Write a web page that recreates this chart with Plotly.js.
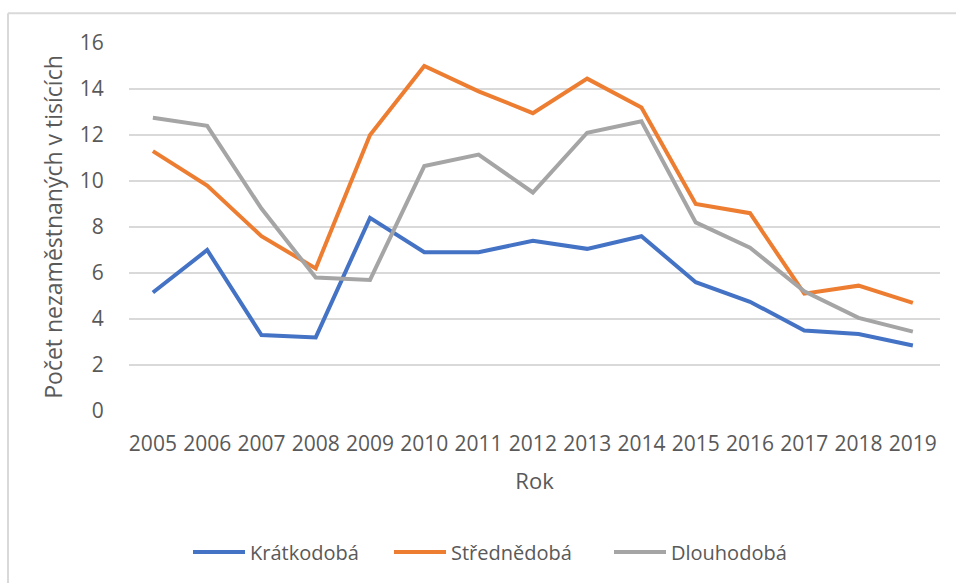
<!DOCTYPE html>
<html>
<head>
<meta charset="utf-8">
<script src="https://cdn.plot.ly/plotly-3.0.1.min.js"></script>
<style>
  html, body { margin: 0; padding: 0; background: #ffffff; }
  #chart { width: 956px; height: 583px; }
</style>
</head>
<body>
<div id="chart"></div>
<script>
const years = ['2005','2006','2007','2008','2009','2010','2011','2012','2013','2014','2015','2016','2017','2018','2019'];
const kratkodoba  = [5.15, 7.0, 3.3, 3.2, 8.4, 6.9, 6.9, 7.4, 7.05, 7.6, 5.6, 4.75, 3.5, 3.35, 2.85];
const strednedoba = [11.3, 9.8, 7.6, 6.2, 12.0, 15.0, 13.9, 12.95, 14.45, 13.2, 9.0, 8.6, 5.1, 5.45, 4.7];
const dlouhodoba  = [12.75, 12.4, 8.8, 5.8, 5.7, 10.65, 11.15, 9.5, 12.1, 12.6, 8.2, 7.1, 5.2, 4.05, 3.45];
const seriesNames = ['Krátkodobá', 'Střednědobá', 'Dlouhodobá'];
const seriesColors = ['#4472C4', '#ED7D31', '#A5A5A5'];
const yTicks = [0, 2, 4, 6, 8, 10, 12, 14, 16];

const FONT = '"Open Sans", Lato, sans-serif';
const TXT = '#595959';
const legendIds = ['legend', 'legend2', 'legend3'];

const data = [kratkodoba, strednedoba, dlouhodoba].map((vals, i) => ({
  type: 'scatter',
  mode: 'lines',
  x: years,
  y: vals,
  name: seriesNames[i],
  legend: legendIds[i],
  line: { color: seriesColors[i], width: 4 },
  hoverinfo: 'x+y+name'
}));

// plot area in pixels: left 129, right 940, top ~42.7, bottom 411
const L = 129, R = 940, T = 42.7, B = 411;
const W = R - L, H = B - T;
const px = x => (x - L) / W;
const py = y => (B - y) / H;

const legendBase = {
  orientation: 'h',
  xanchor: 'left',
  y: py(552), yanchor: 'middle',
  font: { family: FONT, size: 20, color: TXT },
  itemwidth: 52,
  bgcolor: 'rgba(0,0,0,0)'
};
const legendX = [188, 389, 609];

const layout = {
  width: 956,
  height: 583,
  margin: { l: L, r: 956 - R, t: T, b: 583 - B },
  paper_bgcolor: '#ffffff',
  plot_bgcolor: '#ffffff',
  font: { family: FONT, color: TXT, size: 20 },
  showlegend: true,
  legend:  Object.assign({}, legendBase, { x: px(legendX[0]) }),
  legend2: Object.assign({}, legendBase, { x: px(legendX[1]) }),
  legend3: Object.assign({}, legendBase, { x: px(legendX[2]) }),
  xaxis: {
    type: 'category',
    range: [-0.44, 14.5],
    showgrid: false,
    zeroline: false,
    showline: false,
    ticks: 'outside',
    ticklen: 14,
    tickcolor: 'rgba(0,0,0,0)',
    tickfont: { family: FONT, size: 21, color: TXT },
    title: { text: 'Rok', font: { family: FONT, size: 22, color: TXT }, standoff: 17 },
    fixedrange: true
  },
  yaxis: {
    range: [0, 16],
    tickvals: yTicks,
    showgrid: true,
    gridcolor: '#D9D9D9',
    gridwidth: 1.5,
    zeroline: false,
    showline: false,
    ticks: 'outside',
    ticklen: 20,
    tickcolor: 'rgba(0,0,0,0)',
    tickfont: { family: FONT, size: 21, color: TXT },
    title: { text: 'Počet nezaměstnaných v tisících', font: { family: FONT, size: 23, color: TXT }, standoff: 10 },
    fixedrange: true
  },
  shapes: [
    { type: 'line', xref: 'paper', yref: 'paper', x0: px(8), x1: px(960), y0: py(13), y1: py(13), line: { color: '#D9D9D9', width: 2 } },
    { type: 'line', xref: 'paper', yref: 'paper', x0: px(8), x1: px(8), y0: py(13), y1: py(590), line: { color: '#D9D9D9', width: 2 } }
  ]
};

Plotly.newPlot('chart', data, layout, { displayModeBar: false, staticPlot: true });
</script>
</body>
</html>
